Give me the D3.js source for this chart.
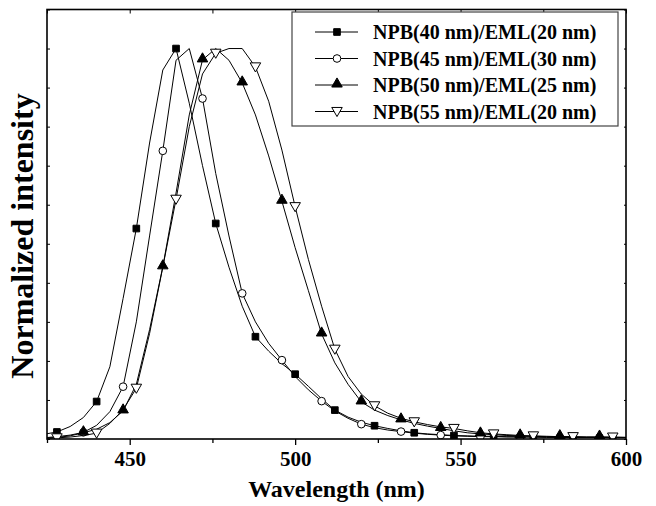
<!DOCTYPE html>
<html>
<head>
<meta charset="utf-8">
<script src="https://cdn.jsdelivr.net/npm/d3@7"></script>
<style>
  body { margin: 0; background: #fff; }
  svg text { font-family: "Liberation Serif", "Times New Roman", serif; font-weight: bold; }
</style>
</head>
<body>
<svg id="chart" width="656" height="506"></svg>
<script>
// Wavelengths (nm) at which the spectra were sampled.
var wavelengths = [
  424, 428, 432, 436, 440, 444, 448, 452, 456, 460,
  464, 468, 472, 476, 480, 484, 488, 492, 496, 500,
  504, 508, 512, 516, 520, 524, 528, 532, 536, 540,
  544, 548, 552, 556, 560, 564, 568, 572, 576, 580,
  584, 588, 592, 596, 600
];

// Legend names, one per device.
var seriesNames = [
  'NPB(40 nm)/EML(20 nm)',
  'NPB(45 nm)/EML(30 nm)',
  'NPB(50 nm)/EML(25 nm)',
  'NPB(55 nm)/EML(20 nm)'
];

// Normalized intensity.
var npb40 = [
  0.012, 0.018, 0.032, 0.055, 0.096, 0.185, 0.360, 0.539, 0.758, 0.945,
  1.000, 0.860, 0.700, 0.552, 0.440, 0.340, 0.262, 0.225, 0.193, 0.166,
  0.135, 0.103, 0.074, 0.056, 0.043, 0.034, 0.027, 0.021, 0.016, 0.013,
  0.011, 0.009, 0.008, 0.007, 0.007, 0.006, 0.006, 0.005, 0.005, 0.005,
  0.005, 0.004, 0.004, 0.004, 0.004
];
var npb45 = [
  0.003, 0.006, 0.010, 0.017, 0.035, 0.070, 0.134, 0.300, 0.520, 0.738,
  0.970, 1.000, 0.872, 0.680, 0.520, 0.373, 0.300, 0.245, 0.202, 0.160,
  0.126, 0.097, 0.072, 0.053, 0.038, 0.029, 0.023, 0.019, 0.015, 0.012,
  0.010, 0.008, 0.007, 0.006, 0.006, 0.005, 0.005, 0.005, 0.004, 0.004,
  0.004, 0.004, 0.004, 0.004, 0.004
];
var npb50 = [
  0.002, 0.004, 0.008, 0.016, 0.025, 0.042, 0.072, 0.140, 0.280, 0.441,
  0.630, 0.830, 0.971, 1.000, 0.970, 0.912, 0.830, 0.725, 0.609, 0.490,
  0.380, 0.269, 0.195, 0.140, 0.095, 0.074, 0.060, 0.049, 0.040, 0.033,
  0.027, 0.021, 0.016, 0.013, 0.011, 0.009, 0.008, 0.007, 0.006, 0.006,
  0.005, 0.005, 0.005, 0.004, 0.004
];
var npb55 = [
  0.001, 0.003, 0.005, 0.009, 0.015, 0.040, 0.075, 0.130, 0.270, 0.440,
  0.614, 0.800, 0.935, 0.988, 1.000, 1.000, 0.953, 0.865, 0.740, 0.595,
  0.460, 0.340, 0.230, 0.160, 0.115, 0.085, 0.066, 0.053, 0.044, 0.037,
  0.031, 0.027, 0.021, 0.016, 0.013, 0.011, 0.009, 0.008, 0.007, 0.006,
  0.006, 0.005, 0.005, 0.005, 0.004
];

// Wavelength of the first marker on each curve; markers repeat every 12 nm.
var markerStart = [428, 436, 436, 428];

// Axis ticks.
var xMajorTicks = [450, 500, 550, 600];
var xMinorTicks = [425, 475, 525, 575];
var yTicks = [0, 0.1, 0.2, 0.3, 0.4, 0.5, 0.6, 0.7, 0.8, 0.9, 1.0, 1.1];

var chart = {

  // Plot frame in pixels.
  LEFT: 47,
  RIGHT: 626,
  TOP: 9.5,
  BOTTOM: 439,

  // Marker step along the curve (nm).
  MARKER_STEP: 12,

  init: function() {
    var svg = d3.select('#chart');

    chart.x = d3.scaleLinear().domain([425, 600]).range([chart.LEFT, chart.RIGHT]);
    chart.y = d3.scaleLinear().domain([0, 1.1]).range([chart.BOTTOM, chart.TOP]);

    svg.append('clipPath').attr('id', 'plotClip')
      .append('rect')
      .attr('x', chart.LEFT).attr('y', chart.TOP)
      .attr('width', chart.RIGHT - chart.LEFT)
      .attr('height', chart.BOTTOM - chart.TOP);

    var values = [npb40, npb45, npb50, npb55];
    var plot = svg.append('g').attr('clip-path', 'url(#plotClip)');

    values.forEach(function(vals, i) {
      var pts = wavelengths.map(function(w, j) { return { w: w, v: vals[j] }; });
      chart.drawCurve(plot, pts, i);
    });

    chart.drawAxes(svg);
    chart.drawLegend(svg);
  },

  // Symbol path generator for series i.
  marker: function(i) {
    if (i === 0) return d3.symbol().type(d3.symbolSquare).size(44)();
    if (i === 1) return d3.symbol().type(d3.symbolCircle).size(46)();
    return d3.symbol().type(d3.symbolTriangle).size(48)();
  },

  markerFill: function(i) {
    return (i === 0 || i === 2) ? '#000' : '#fff';
  },

  markerTransform: function(i, px, py) {
    if (i === 3) return 'translate(' + px + ',' + (py - 1) + ') rotate(180)';
    if (i === 2) return 'translate(' + px + ',' + (py - 1) + ')';
    return 'translate(' + px + ',' + py + ')';
  },

  drawCurve: function(g, pts, i) {
    var line = d3.line()
      .x(function(d) { return chart.x(d.w); })
      .y(function(d) { return chart.y(d.v); });

    g.append('path')
      .datum(pts)
      .attr('d', line)
      .attr('fill', 'none')
      .attr('stroke', '#000')
      .attr('stroke-width', 1);

    var marks = pts.filter(function(d) {
      return d.w >= markerStart[i] && (d.w - markerStart[i]) % chart.MARKER_STEP === 0;
    });

    g.selectAll('.m' + i)
      .data(marks)
      .enter().append('path')
      .attr('class', 'm' + i)
      .attr('d', chart.marker(i))
      .attr('transform', function(d) {
        return chart.markerTransform(i, chart.x(d.w), chart.y(d.v));
      })
      .attr('fill', chart.markerFill(i))
      .attr('stroke', '#000')
      .attr('stroke-width', 1);
  },

  drawAxes: function(svg) {
    var x = chart.x, y = chart.y;
    var g = svg.append('g');

    // Bottom axis: outward ticks with labels.
    g.append('g')
      .attr('transform', 'translate(0,' + chart.BOTTOM + ')')
      .call(d3.axisBottom(x).tickValues(xMajorTicks).tickSize(6).tickFormat(d3.format('d')))
      .call(function(a) {
        a.select('.domain').remove();
        a.selectAll('line').attr('stroke-width', 1.3);
        a.selectAll('text').attr('font-size', 21).attr('dy', 0).attr('y', 27).attr('fill', '#000');
      });
    g.append('g')
      .attr('transform', 'translate(0,' + chart.BOTTOM + ')')
      .call(d3.axisBottom(x).tickValues(xMinorTicks).tickSize(4).tickFormat(''))
      .call(function(a) { a.select('.domain').remove(); a.selectAll('line').attr('stroke-width', 1.3); });

    // Top axis: inward ticks.
    g.append('g')
      .attr('transform', 'translate(0,' + chart.TOP + ')')
      .call(d3.axisBottom(x).tickValues(xMajorTicks.concat(xMinorTicks)).tickSize(4).tickFormat(''))
      .call(function(a) { a.select('.domain').remove(); });

    // Left and right axes: small inward ticks, no labels.
    g.append('g')
      .attr('transform', 'translate(' + chart.LEFT + ',0)')
      .call(d3.axisRight(y).tickValues(yTicks).tickSize(3).tickFormat(''))
      .call(function(a) { a.select('.domain').remove(); });
    g.append('g')
      .attr('transform', 'translate(' + chart.RIGHT + ',0)')
      .call(d3.axisLeft(y).tickValues(yTicks).tickSize(2).tickFormat(''))
      .call(function(a) { a.select('.domain').remove(); });

    // Frame.
    g.append('rect')
      .attr('x', chart.LEFT).attr('y', chart.TOP)
      .attr('width', chart.RIGHT - chart.LEFT)
      .attr('height', chart.BOTTOM - chart.TOP)
      .attr('fill', 'none')
      .attr('stroke', '#000')
      .attr('stroke-width', 1.6);

    // Axis titles.
    svg.append('text')
      .attr('x', (chart.LEFT + chart.RIGHT) / 2)
      .attr('y', 497)
      .attr('text-anchor', 'middle')
      .attr('font-size', 24)
      .text('Wavelength (nm)');

    svg.append('text')
      .attr('transform', 'translate(33,236) rotate(-90)')
      .attr('text-anchor', 'middle')
      .attr('font-size', 32)
      .text('Normalized intensity');
  },

  drawLegend: function(svg) {
    var g = svg.append('g');

    g.append('rect')
      .attr('x', 292).attr('y', 12)
      .attr('width', 326).attr('height', 114)
      .attr('fill', '#fff')
      .attr('stroke', '#444')
      .attr('stroke-width', 1.2);

    seriesNames.forEach(function(name, i) {
      var ry = 32 + i * 26.5;

      g.append('line')
        .attr('x1', 315).attr('x2', 358)
        .attr('y1', ry).attr('y2', ry)
        .attr('stroke', '#000');

      g.append('path')
        .attr('d', chart.marker(i))
        .attr('transform', chart.markerTransform(i, 337, ry))
        .attr('fill', chart.markerFill(i))
        .attr('stroke', '#000');

      g.append('text')
        .attr('x', 373)
        .attr('y', ry + 7)
        .attr('font-size', 20)
        .text(name);
    });
  }
};

chart.init();
</script>
</body>
</html>
